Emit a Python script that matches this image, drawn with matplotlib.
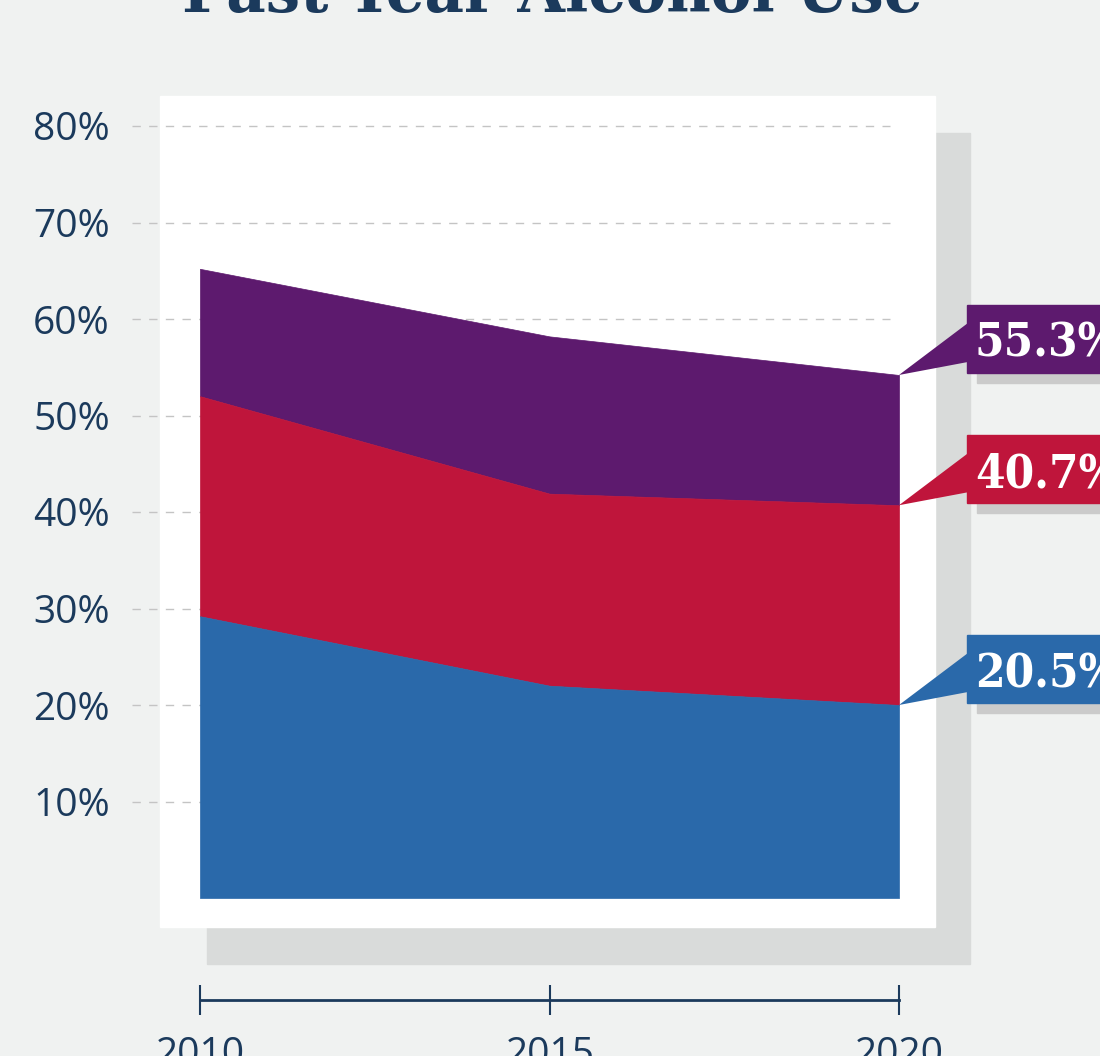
import matplotlib
matplotlib.use("Agg")
import matplotlib.pyplot as plt
from matplotlib.patches import Rectangle, Polygon

# data (cumulative levels)
years = [2010, 2015, 2020]
purple_vals = [65.2, 58.2, 54.2]
red_vals = [52.0, 41.9, 40.7]
blue_vals = [29.2, 22.0, 20.0]
end_labels = ["55.3%", "40.7%", "20.5%"]
y_ticks = [10, 20, 30, 40, 50, 60, 70, 80]
y_tick_labels = ["10%", "20%", "30%", "40%", "50%", "60%", "70%", "80%"]
x_tick_labels = ["2010", "2015", "2020"]

purple = "#5d1a6e"
red = "#bf153b"
blue = "#2a69aa"
navy = "#1b3a5c"
bg = "#f0f2f1"

W, H = 1100, 1056
fig = plt.figure(figsize=(W / 100, H / 100), dpi=100, facecolor=bg)


def fx(px):
    return px / W


def fy(py):
    return 1 - py / H


# shadow + white panel behind the plot
fig.add_artist(Rectangle((fx(207), fy(964)), fx(970) - fx(207), fy(133) - fy(964),
                         transform=fig.transFigure, color="#d9dbda", zorder=-2))
fig.add_artist(Rectangle((fx(160), fy(927)), fx(935) - fx(160), fy(96) - fy(927),
                         transform=fig.transFigure, color="white", zorder=-1))

# axes: x 132..970 px, y 0% at 898 px, 9.65 px per 1%
ppu = 9.65
ymax = 82
ax_left, ax_right = 132, 970
ax_bottom = 898
ax_top = ax_bottom - ymax * ppu
ax = fig.add_axes([fx(ax_left), fy(ax_bottom), fx(ax_right) - fx(ax_left), fy(ax_top) - fy(ax_bottom)])
ax.set_facecolor("none")

px_per_year = (899 - 200) / 10
ax.set_xlim(2010 - (200 - ax_left) / px_per_year, 2010 + (ax_right - 200) / px_per_year)
ax.set_ylim(0, ymax)

grid_end = (890 - ax_left) / (ax_right - ax_left)
for t in y_ticks:
    ax.axhline(t, xmin=0, xmax=grid_end, color="#c4c4c4", lw=1, ls=(0, (6, 6)), zorder=0)

ax.fill_between(years, red_vals, purple_vals, color=purple, lw=0.5, ec=purple, zorder=1)
ax.fill_between(years, blue_vals, red_vals, color=red, lw=0.5, ec=red, zorder=2)
ax.fill_between(years, 0, blue_vals, color=blue, lw=0.5, ec=blue, zorder=3)

for s in ["top", "right", "left"]:
    ax.spines[s].set_visible(False)
ax.spines["bottom"].set_position(("outward", (1000 - ax_bottom) * 0.72))
ax.spines["bottom"].set_bounds(years[0], years[-1])
ax.spines["bottom"].set_color(navy)
ax.spines["bottom"].set_linewidth(2)

ax.set_yticks(y_ticks)
ax.set_yticklabels(y_tick_labels, family="Open Sans", fontsize=28, color=navy)
ax.tick_params(axis="y", length=0, pad=16)
ax.set_xticks(years)
ax.set_xticklabels(x_tick_labels, family="Open Sans", fontsize=28, color=navy)
ax.tick_params(axis="x", direction="inout", length=21.6, width=1.5, color=navy, pad=15)

# title, mostly cut off at the top edge
fig.text(fx(552), fy(12), "Past-Year Alcohol Use", ha="center", va="baseline",
         family="DejaVu Serif", fontweight="bold", fontsize=44, color=navy)

# callouts at the 2020 end
fig.canvas.draw()
inv = fig.transFigure.inverted()
for vals, lab, col in [(purple_vals, end_labels[0], purple),
                       (red_vals, end_labels[1], red),
                       (blue_vals, end_labels[2], blue)]:
    ax_px, ay_px = ax.transData.transform((years[-1], vals[-1]))

    def pt(dx, dy):
        # dx right, dy down, in pixels from the anchor
        return inv.transform((ax_px + dx, ay_px - dy))

    x0, y0 = pt(78, 8)
    x1, y1 = pt(260, -60)
    fig.add_artist(Rectangle((x0, y0), x1 - x0, y1 - y0, transform=fig.transFigure,
                             color="#cbcbcb", zorder=4))
    x0, y0 = pt(68, -2)
    x1, y1 = pt(260, -70)
    fig.add_artist(Rectangle((x0, y0), x1 - x0, y1 - y0, transform=fig.transFigure,
                             color=col, zorder=5))
    fig.add_artist(Polygon([pt(0, 0), pt(69, -52), pt(69, -13)], closed=True,
                           transform=fig.transFigure, color=col, lw=0, zorder=5))
    tx, ty = pt(76, -36)
    fig.text(tx, ty, lab, ha="left", va="center_baseline", family="DejaVu Serif",
             fontstretch="condensed", fontweight="bold", fontsize=34, color="white", zorder=6)

fig.savefig("out.png", dpi=100, facecolor=bg)
